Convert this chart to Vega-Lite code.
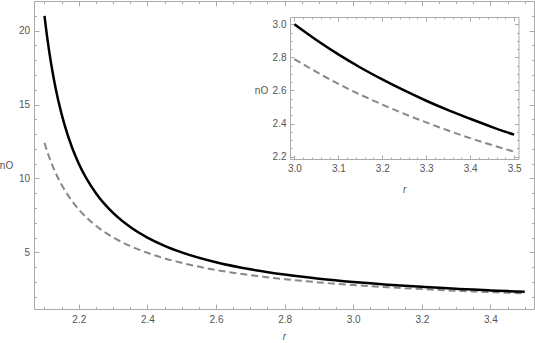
{
  "$schema": "https://vega.github.io/schema/vega-lite/v6.json",
  "width": 500,
  "height": 308,
  "autosize": {"type": "none"},
  "padding": {"left": 34, "top": 1, "right": 1, "bottom": 34},
  "background": "white",
  "config": {
    "view": {"stroke": "#aaaaaa", "strokeWidth": 1},
    "axis": {
      "labelFont": "Liberation Sans",
      "titleFont": "Liberation Sans",
      "labelColor": "#555555",
      "titleColor": "#555555",
      "tickColor": "#aaaaaa",
      "domainColor": "#aaaaaa",
      "grid": false,
      "labelFontSize": 10,
      "titleFontSize": 10,
      "titleFontWeight": "normal",
      "labelOverlap": false,
      "labelFlush": false
    }
  },
  "data": {
    "values": [
      {"r": 2.1, "s": "a", "v": 21},
      {"r": 2.11, "s": "a", "v": 19.18},
      {"r": 2.12, "s": "a", "v": 17.667},
      {"r": 2.13, "s": "a", "v": 16.385},
      {"r": 2.14, "s": "a", "v": 15.286},
      {"r": 2.16, "s": "a", "v": 13.5},
      {"r": 2.18, "s": "a", "v": 12.111},
      {"r": 2.2, "s": "a", "v": 11},
      {"r": 2.25, "s": "a", "v": 9},
      {"r": 2.3, "s": "a", "v": 7.667},
      {"r": 2.35, "s": "a", "v": 6.714},
      {"r": 2.4, "s": "a", "v": 6},
      {"r": 2.45, "s": "a", "v": 5.444},
      {"r": 2.5, "s": "a", "v": 5},
      {"r": 2.6, "s": "a", "v": 4.333},
      {"r": 2.7, "s": "a", "v": 3.857},
      {"r": 2.8, "s": "a", "v": 3.5},
      {"r": 2.9, "s": "a", "v": 3.222},
      {"r": 3.0, "s": "a", "v": 3.0},
      {"r": 3.05, "s": "a", "v": 2.905},
      {"r": 3.1, "s": "a", "v": 2.818},
      {"r": 3.15, "s": "a", "v": 2.739},
      {"r": 3.2, "s": "a", "v": 2.667},
      {"r": 3.25, "s": "a", "v": 2.6},
      {"r": 3.3, "s": "a", "v": 2.538},
      {"r": 3.35, "s": "a", "v": 2.481},
      {"r": 3.4, "s": "a", "v": 2.429},
      {"r": 3.45, "s": "a", "v": 2.379},
      {"r": 3.5, "s": "a", "v": 2.333},
      {"r": 2.1, "s": "b", "v": 12.41},
      {"r": 2.11, "s": "b", "v": 11.68},
      {"r": 2.12, "s": "b", "v": 11.05},
      {"r": 2.13, "s": "b", "v": 10.5},
      {"r": 2.14, "s": "b", "v": 10.0},
      {"r": 2.16, "s": "b", "v": 9.17},
      {"r": 2.18, "s": "b", "v": 8.48},
      {"r": 2.2, "s": "b", "v": 7.9},
      {"r": 2.25, "s": "b", "v": 6.8},
      {"r": 2.3, "s": "b", "v": 6.02},
      {"r": 2.35, "s": "b", "v": 5.43},
      {"r": 2.4, "s": "b", "v": 4.97},
      {"r": 2.45, "s": "b", "v": 4.59},
      {"r": 2.5, "s": "b", "v": 4.29},
      {"r": 2.6, "s": "b", "v": 3.81},
      {"r": 2.7, "s": "b", "v": 3.46},
      {"r": 2.8, "s": "b", "v": 3.19},
      {"r": 2.9, "s": "b", "v": 2.97},
      {"r": 3.0, "s": "b", "v": 2.79},
      {"r": 3.05, "s": "b", "v": 2.712},
      {"r": 3.1, "s": "b", "v": 2.64},
      {"r": 3.15, "s": "b", "v": 2.575},
      {"r": 3.2, "s": "b", "v": 2.515},
      {"r": 3.25, "s": "b", "v": 2.459},
      {"r": 3.3, "s": "b", "v": 2.407},
      {"r": 3.35, "s": "b", "v": 2.358},
      {"r": 3.4, "s": "b", "v": 2.312},
      {"r": 3.45, "s": "b", "v": 2.27},
      {"r": 3.5, "s": "b", "v": 2.23}
    ]
  },
  "layer": [
    {
      "layer": [
        {
          "transform": [{"filter": "datum.s == 'b'"}],
          "mark": {"type": "line", "color": "#888888", "strokeWidth": 2, "strokeDash": [7, 4], "interpolate": "monotone"},
          "encoding": {
            "x": {
              "field": "r", "type": "quantitative",
              "scale": {"domain": [2.0694, 3.527], "nice": false, "zero": false},
              "axis": {
                "orient": "bottom", "domain": false,
                "values": [2.1, 2.15, 2.2, 2.25, 2.3, 2.35, 2.4, 2.45, 2.5, 2.55, 2.6, 2.65, 2.7, 2.75, 2.8, 2.85, 2.9, 2.95, 3.0, 3.05, 3.1, 3.15, 3.2, 3.25, 3.3, 3.35, 3.4, 3.45, 3.5],
                "tickSize": {"condition": {"test": "abs(datum.value*5 - round(datum.value*5)) < 0.01", "value": -5}, "value": -2.5},
                "labelExpr": "abs(datum.value*5 - round(datum.value*5)) < 0.01 ? format(datum.value, '.1f') : ''",
                "labelPadding": 10,
                "title": "r", "titleFontStyle": "italic", "titleY": 27, "titleBaseline": "middle"
              }
            },
            "y": {
              "field": "v", "type": "quantitative",
              "scale": {"domain": [1.17, 22.0], "nice": false, "zero": false},
              "axis": {
                "orient": "left", "domain": false,
                "values": [2, 3, 4, 5, 6, 7, 8, 9, 10, 11, 12, 13, 14, 15, 16, 17, 18, 19, 20, 21],
                "tickSize": {"condition": {"test": "datum.value % 5 == 0", "value": -5}, "value": -2.5},
                "labelExpr": "datum.value % 5 == 0 ? datum.label : ''",
                "labelPadding": 9.5,
                "title": "nO", "titleAngle": 0, "titleX": -28, "titleY": 164, "titleAlign": "center", "titleBaseline": "middle"
              }
            }
          }
        },
        {
          "transform": [{"filter": "datum.s == 'a'"}],
          "mark": {"type": "line", "color": "black", "strokeWidth": 2.5, "interpolate": "monotone"},
          "encoding": {
            "x": {
              "field": "r", "type": "quantitative",
              "scale": {"domain": [2.0694, 3.527], "nice": false, "zero": false},
              "axis": {
                "orient": "top", "domain": false, "labels": false, "title": null,
                "values": [2.1, 2.15, 2.2, 2.25, 2.3, 2.35, 2.4, 2.45, 2.5, 2.55, 2.6, 2.65, 2.7, 2.75, 2.8, 2.85, 2.9, 2.95, 3.0, 3.05, 3.1, 3.15, 3.2, 3.25, 3.3, 3.35, 3.4, 3.45, 3.5],
                "tickSize": {"condition": {"test": "abs(datum.value*5 - round(datum.value*5)) < 0.01", "value": -5}, "value": -2.5}
              }
            },
            "y": {
              "field": "v", "type": "quantitative",
              "scale": {"domain": [1.17, 22.0], "nice": false, "zero": false},
              "axis": {
                "orient": "right", "domain": false, "labels": false, "title": null,
                "values": [2, 3, 4, 5, 6, 7, 8, 9, 10, 11, 12, 13, 14, 15, 16, 17, 18, 19, 20, 21],
                "tickSize": {"condition": {"test": "datum.value % 5 == 0", "value": -5}, "value": -2.5}
              }
            }
          }
        }
      ],
      "resolve": {"axis": {"x": "independent", "y": "independent"}}
    },
    {
      "layer": [
        {
          "transform": [{"filter": "datum.s == 'b' && datum.r >= 3"}],
          "mark": {"type": "line", "color": "#888888", "strokeWidth": 2, "strokeDash": [7, 4], "interpolate": "monotone"},
          "encoding": {
            "x": {
              "field": "r", "type": "quantitative",
              "scale": {"domain": [2.99, 3.51], "range": [256, 484.5], "nice": false, "zero": false},
              "axis": {
                "orient": "bottom", "offset": -150, "domain": true,
                "values": [3.0, 3.02, 3.04, 3.06, 3.08, 3.1, 3.12, 3.14, 3.16, 3.18, 3.2, 3.22, 3.24, 3.26, 3.28, 3.3, 3.32, 3.34, 3.36, 3.38, 3.4, 3.42, 3.44, 3.46, 3.48, 3.5],
                "tickSize": {"condition": {"test": "abs(datum.value*10 - round(datum.value*10)) < 0.01", "value": -4}, "value": -2},
                "labelExpr": "abs(datum.value*10 - round(datum.value*10)) < 0.01 ? format(datum.value, '.1f') : ''",
                "labelPadding": 8,
                "title": "r", "titleFontStyle": "italic", "titleY": 30, "titleBaseline": "middle"
              }
            },
            "y": {
              "field": "v", "type": "quantitative",
              "scale": {"domain": [2.186, 3.044], "range": [158, 16], "nice": false, "zero": false},
              "axis": {
                "orient": "left", "offset": -256, "domain": true,
                "values": [2.2, 2.25, 2.3, 2.35, 2.4, 2.45, 2.5, 2.55, 2.6, 2.65, 2.7, 2.75, 2.8, 2.85, 2.9, 2.95, 3.0],
                "tickSize": {"condition": {"test": "abs(datum.value*5 - round(datum.value*5)) < 0.01", "value": -4}, "value": -2},
                "labelExpr": "abs(datum.value*5 - round(datum.value*5)) < 0.01 ? format(datum.value, '.1f') : ''",
                "labelPadding": 8,
                "title": "nO", "titleAngle": 0, "titleX": -29, "titleY": 89, "titleAlign": "center", "titleBaseline": "middle"
              }
            }
          }
        },
        {
          "transform": [{"filter": "datum.s == 'a' && datum.r >= 3"}],
          "mark": {"type": "line", "color": "black", "strokeWidth": 2.5, "interpolate": "monotone"},
          "encoding": {
            "x": {
              "field": "r", "type": "quantitative",
              "scale": {"domain": [2.99, 3.51], "range": [256, 484.5], "nice": false, "zero": false},
              "axis": {
                "orient": "top", "offset": -16, "domain": true, "labels": false, "title": null,
                "values": [3.0, 3.02, 3.04, 3.06, 3.08, 3.1, 3.12, 3.14, 3.16, 3.18, 3.2, 3.22, 3.24, 3.26, 3.28, 3.3, 3.32, 3.34, 3.36, 3.38, 3.4, 3.42, 3.44, 3.46, 3.48, 3.5],
                "tickSize": {"condition": {"test": "abs(datum.value*10 - round(datum.value*10)) < 0.01", "value": -4}, "value": -2}
              }
            },
            "y": {
              "field": "v", "type": "quantitative",
              "scale": {"domain": [2.186, 3.044], "range": [158, 16], "nice": false, "zero": false},
              "axis": {
                "orient": "right", "offset": -15.5, "domain": true, "labels": false, "title": null,
                "values": [2.2, 2.25, 2.3, 2.35, 2.4, 2.45, 2.5, 2.55, 2.6, 2.65, 2.7, 2.75, 2.8, 2.85, 2.9, 2.95, 3.0],
                "tickSize": {"condition": {"test": "abs(datum.value*5 - round(datum.value*5)) < 0.01", "value": -4}, "value": -2}
              }
            }
          }
        }
      ],
      "resolve": {"axis": {"x": "independent", "y": "independent"}}
    }
  ],
  "resolve": {"scale": {"x": "independent", "y": "independent"}}
}
